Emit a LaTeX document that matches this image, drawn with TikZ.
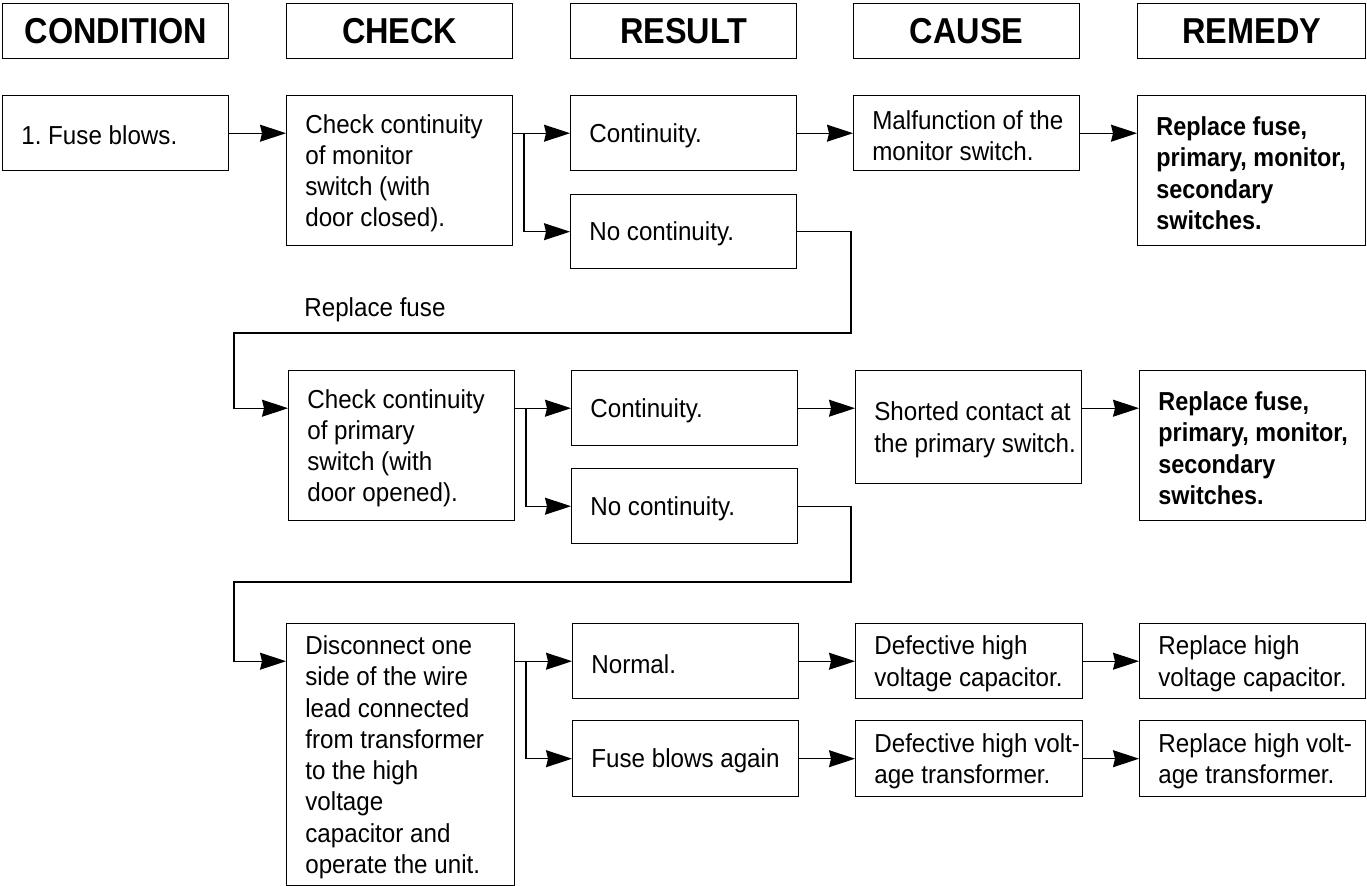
\documentclass[tikz,border=0pt]{standalone}
\usepackage{fontspec}
\usepackage{graphicx}
\setmainfont{Liberation Sans}[FakeStretch=0.93]
\newfontfamily\hdrfont{Liberation Sans}[FakeStretch=0.9]
\newfontfamily\bldfont{Liberation Sans}[FakeStretch=0.9]
\usetikzlibrary{arrows.meta}
\frenchspacing
\newcommand\mybox[7]{%
  \node[boxshape, anchor=north west, minimum width=#4*0.02cm, minimum height=#5*0.02cm] (#1) at (#2,#3) {};
  \node[#6] (#1t) at ([xshift=0.38cm, yshift=-0.05cm]#1.west) {#7};
}
\newcommand\myhdr[4]{%
  \node[boxshape, anchor=north west, minimum width=#4*0.02cm, minimum height=1.1cm, font=\hdrfont\bfseries\fontsize{20.5pt}{24pt}\selectfont] (#1) at (#2,3) {#3};
}
\begin{document}
\begin{tikzpicture}[x=0.02cm, y=-0.02cm,
  boxshape/.style={draw, line width=0.8pt, inner sep=0pt, rectangle},
  txt/.style={anchor=west, align=left, inner sep=0pt, font=\fontsize{14.8pt}{17.8pt}\selectfont},
  btxt/.style={anchor=west, align=left, inner sep=0pt, font=\bldfont\bfseries\fontsize{14.8pt}{18pt}\selectfont},
  arr/.style={line width=0.8pt, -{Stealth[length=0.52cm, width=0.34cm, inset=0.04cm]}},
  ln/.style={line width=0.8pt}]
\useasboundingbox (0,0) rectangle (1367,886);
% headers
\myhdr{hcond}{2}{CONDITION}{226}
\myhdr{hcheck}{286}{CHECK}{226}
\myhdr{hres}{570}{RESULT}{226}
\myhdr{hcause}{853}{CAUSE}{226}
\myhdr{hrem}{1137}{REMEDY}{228}
% row 1
\mybox{c1}{2}{95}{226}{75}{txt}{1. Fuse blows.}
\mybox{k1}{286}{95}{226}{150}{txt}{Check continuity\\of monitor\\switch (with\\door closed).}
\mybox{r1a}{570}{95}{226}{75}{txt}{Continuity.}
\mybox{r1b}{570}{194}{226}{74}{txt}{No continuity.}
\mybox{ca1}{853}{95}{226}{75}{txt}{Malfunction of the\\monitor switch.}
\mybox{rm1}{1137}{95}{228}{150}{btxt}{Replace fuse,\\primary, monitor,\\secondary\\switches.}
% row 2
\mybox{k2}{288}{370}{226}{150}{txt}{Check continuity\\of primary\\switch (with\\door opened).}
\mybox{r2a}{571}{370}{226}{75}{txt}{Continuity.}
\mybox{r2b}{571}{468}{226}{75}{txt}{No continuity.}
\mybox{ca2}{855}{370}{226}{113}{txt}{Shorted contact at\\the primary switch.}
\mybox{rm2}{1139}{370}{226}{150}{btxt}{Replace fuse,\\primary, monitor,\\secondary\\switches.}
% row 3
\mybox{k3}{286}{623}{228}{262}{txt}{Disconnect one\\side of the wire\\lead connected\\from transformer\\to the high\\voltage\\capacitor and\\operate the unit.}
\mybox{r3a}{572}{623}{226}{75}{txt}{Normal.}
\mybox{r3b}{572}{720}{226}{76}{txt}{Fuse blows again}
\mybox{ca3a}{855}{623}{227}{75}{txt}{Defective high\\voltage capacitor.}
\mybox{ca3b}{855}{720}{227}{76}{txt}{Defective high volt-\\age transformer.}
\mybox{rm3a}{1139}{623}{226}{75}{txt}{Replace high\\voltage capacitor.}
\mybox{rm3b}{1139}{720}{226}{76}{txt}{Replace high volt-\\age transformer.}
% label
\node[txt] (lbl) at (304,310) {Replace fuse};
% junction coordinates
\coordinate (s1) at (524,0);
\coordinate (s2) at (526,0);
\coordinate (s3) at (526,0);
\coordinate (j1) at (851,333);
\coordinate (j2) at (234,333);
\coordinate (j3) at (851,582);
\coordinate (j4) at (234,582);
% row 1 connectors
\draw[arr] (c1.east) -- (c1.east -| k1.west);
\draw[arr] (k1.east |- r1a.west) -- (r1a.west);
\draw[arr] (s1 |- r1a.west) |- (r1b.west);
\draw[arr] (r1a.east) -- (ca1.west);
\draw[arr] (ca1.east) -- (ca1.east -| rm1.west);
\draw[arr] (r1b.east) -| (j1) -- (j2) |- (k2.west |- r2a.west);
% row 2 connectors
\draw[arr] (k2.east |- r2a.west) -- (r2a.west);
\draw[arr] (s2 |- r2a.west) |- (r2b.west);
\draw[arr] (r2a.east) -- (r2a.east -| ca2.west);
\draw[arr] (r2a.east -| ca2.east) -- (r2a.east -| rm2.west);
\draw[arr] (r2b.east) -| (j3) -- (j4) |- (k3.west |- r3a.west);
% row 3 connectors
\draw[arr] (k3.east |- r3a.west) -- (r3a.west);
\draw[arr] (s3 |- r3a.west) |- (r3b.west);
\draw[arr] (r3a.east) -- (ca3a.west);
\draw[arr] (ca3a.east) -- (rm3a.west);
\draw[arr] (r3b.east) -- (ca3b.west);
\draw[arr] (ca3b.east) -- (rm3b.west);
\end{tikzpicture}
\end{document}
